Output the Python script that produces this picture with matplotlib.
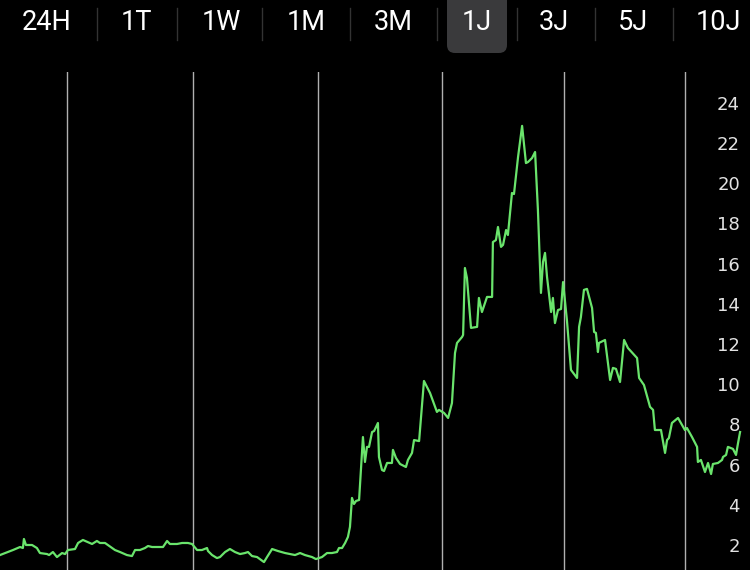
import matplotlib
matplotlib.use("Agg")
import matplotlib.pyplot as plt
from matplotlib.patches import FancyBboxPatch

# ---- data ----
tabs = ["24H", "1T", "1W", "1M", "3M", "1J", "3J", "5J", "10J"]
selected_tab = "1J"

days = [0, 6.4, 9.9, 11.3, 11.8, 12.8, 15.8, 18.2, 19.7, 23.2, 24.2, 26.1, 28.1, 30.6, 32.1,
        33.5, 37.0, 38.5, 40.9, 45.4, 47.8, 49.3, 51.8, 56.7, 59.2, 62.6, 65.1, 66.6, 69.0,
        71.5, 73.0, 75.0, 77.4, 80.4, 82.4, 83.8, 87.3, 89.8, 92.7,
        94.7, 97.2, 99.6, 102.1, 102.6, 104.6, 107.0, 108.5, 111.0, 113.4, 115.9, 118.4,
        120.8, 122.3, 124.3, 126.8, 130.2, 131.7, 134.2, 137.1, 140.6, 145.5, 148.0, 150.4,
        153.9, 155.8, 158.8, 161.3, 163.7, 166.2, 167.2, 168.7, 170.2, 171.6, 172.6, 173.6,
        174.6, 175.6, 177.1, 179.0, 180.0, 181.0, 182.0, 183.5, 184.5, 186.4, 186.9, 188.4,
        189.4, 190.9, 193.3, 193.8, 195.3, 197.3, 200.2, 201.2, 203.2, 204.2, 206.7, 209.1,
        212.1, 215.5, 216.5, 219.0, 221.0, 222.9, 224.4, 225.4, 227.9, 228.4, 229.3, 230.3,
        232.3, 235.3, 236.2, 237.7, 240.2, 242.7, 243.1, 244.6, 245.6, 247.1, 248.1, 249.6,
        250.5, 252.5, 253.5, 255.5, 257.5, 259.4, 260.4, 262.4, 263.9, 265.3, 266.8, 267.8,
        268.8, 269.8, 271.8, 272.7, 273.7, 275.2, 276.7, 277.7, 279.6, 281.6, 284.6, 285.6,
        286.5, 288.0, 289.5, 292.0, 293.0, 293.9, 294.9, 295.4, 298.4, 300.9, 302.3, 303.8,
        305.8, 307.8, 309.7, 314.2, 315.2, 317.6, 320.6, 322.1, 323.0, 326.0, 328.0, 329.0,
        329.9, 331.4, 334.4, 337.8, 338.8, 341.3, 343.8, 344.2, 345.7, 347.7, 349.2, 350.7,
        351.6, 354.1, 356.1, 356.6, 358.1, 359.0, 361.5, 363.0, 364.0, 365.0]

prices = [1.50, 1.75, 1.90, 1.85, 2.30, 2.00, 2.00, 1.85, 1.60, 1.55, 1.50, 1.65, 1.40, 1.60, 1.55,
          1.75, 1.80, 2.10, 2.25, 2.05, 2.20, 2.10, 2.10, 1.75, 1.65, 1.50, 1.45, 1.75, 1.75,
          1.85, 1.95, 1.90, 1.90, 1.90, 2.20, 2.05, 2.05, 2.10, 2.10,
          2.05, 1.75, 1.75, 1.85, 1.70, 1.50, 1.35, 1.40, 1.65, 1.80, 1.65, 1.55,
          1.60, 1.65, 1.45, 1.40, 1.15, 1.40, 1.80, 1.70, 1.60, 1.50, 1.60, 1.50,
          1.40, 1.30, 1.40, 1.60, 1.60, 1.65, 1.85, 1.85, 2.10, 2.40, 2.90, 4.34,
          4.04, 4.19, 4.24, 7.37, 6.13, 6.88, 6.88, 7.62, 7.67, 8.07, 6.38, 5.73,
          5.68, 6.08, 6.08, 6.73, 6.33, 6.03, 5.88, 6.23, 6.58, 7.22, 7.17, 10.16,
          9.56, 8.62, 8.72, 8.57, 8.32, 9.06, 11.55, 12.05, 12.35, 12.45, 15.78, 15.28,
          12.80, 12.85, 14.29, 13.59, 14.34, 14.34, 17.07, 17.17, 17.82, 16.83, 16.93, 17.67,
          17.42, 19.51, 19.46, 21.30, 22.85, 21.00, 21.05, 21.25, 21.55, 18.67, 14.54, 16.08,
          16.53, 15.33, 13.59, 14.29, 13.04, 13.69, 13.74, 15.08, 13.19, 10.71, 10.31, 12.85,
          13.34, 14.69, 14.74, 13.79, 12.60, 12.55, 11.60, 12.05, 12.20, 10.21, 10.81, 10.76,
          10.11, 12.20, 11.80, 11.30, 10.31, 9.96, 8.87, 8.72, 7.72, 7.72, 6.58, 7.22,
          7.32, 8.07, 8.32, 7.72, 7.82, 7.37, 6.88, 6.13, 6.23, 5.63, 6.08, 5.53,
          6.03, 6.08, 6.23, 6.38, 6.48, 6.88, 6.78, 6.48, 7.07, 7.62]

grid_days = [33, 95, 157, 218, 278, 338]
y_ticks = [2, 4, 6, 8, 10, 12, 14, 16, 18, 20, 22, 24]
y_tick_labels = [str(v) for v in y_ticks]

# ---- figure ----
W, H = 750, 570
fig = plt.figure(figsize=(W / 100, H / 100), dpi=100, facecolor="black")

# chart axes
ax = fig.add_axes([0, 0, 1, (H - 72) / H])
ax.set_facecolor("black")
ax.plot(days, prices, color="#6ae46c", lw=1.6, solid_joinstyle="round", zorder=3)
ax.set_xlim(0, 369.9)
ax.set_ylim(0.756, 25.53)
ax.set_xticks(grid_days)
ax.set_xticklabels([])
ax.tick_params(axis="x", length=0)
ax.grid(axis="x", color="#b0b0b0", lw=1.0, zorder=1)
ax.yaxis.tick_right()
ax.set_yticks(y_ticks)
ax.set_yticklabels(y_tick_labels)
ax.tick_params(axis="y", length=0, pad=-7.2, labelsize=13, labelcolor="#e2e2e2")
for lbl in ax.get_yticklabels():
    lbl.set_horizontalalignment("right")
    lbl.set_family("DejaVu Sans")
for s in ax.spines.values():
    s.set_visible(False)

# tab bar (pixel coordinates overlay)
top = fig.add_axes([0, 0, 1, 1], zorder=5)
top.set_xlim(0, W)
top.set_ylim(H, 0)
top.axis("off")
top.patch.set_alpha(0)

tab_centers = [47, 136, 221, 306, 393, 477, 554, 633, 718]
separators = [97, 177, 262, 350, 437, 517, 595, 673]

box = FancyBboxPatch((447, -20), 60, 73, boxstyle="round,pad=0,rounding_size=8",
                     facecolor="#3a3a3c", edgecolor="none")
top.add_patch(box)
for sx in separators:
    top.plot([sx, sx], [8, 40], color="#333333", lw=1)
for name, cx in zip(tabs, tab_centers):
    top.text(cx, 23, name, color="white", fontsize=19.5, family=["Roboto", "DejaVu Sans"],
             ha="center", va="center")

fig.savefig("out.png", dpi=100, facecolor="black")
